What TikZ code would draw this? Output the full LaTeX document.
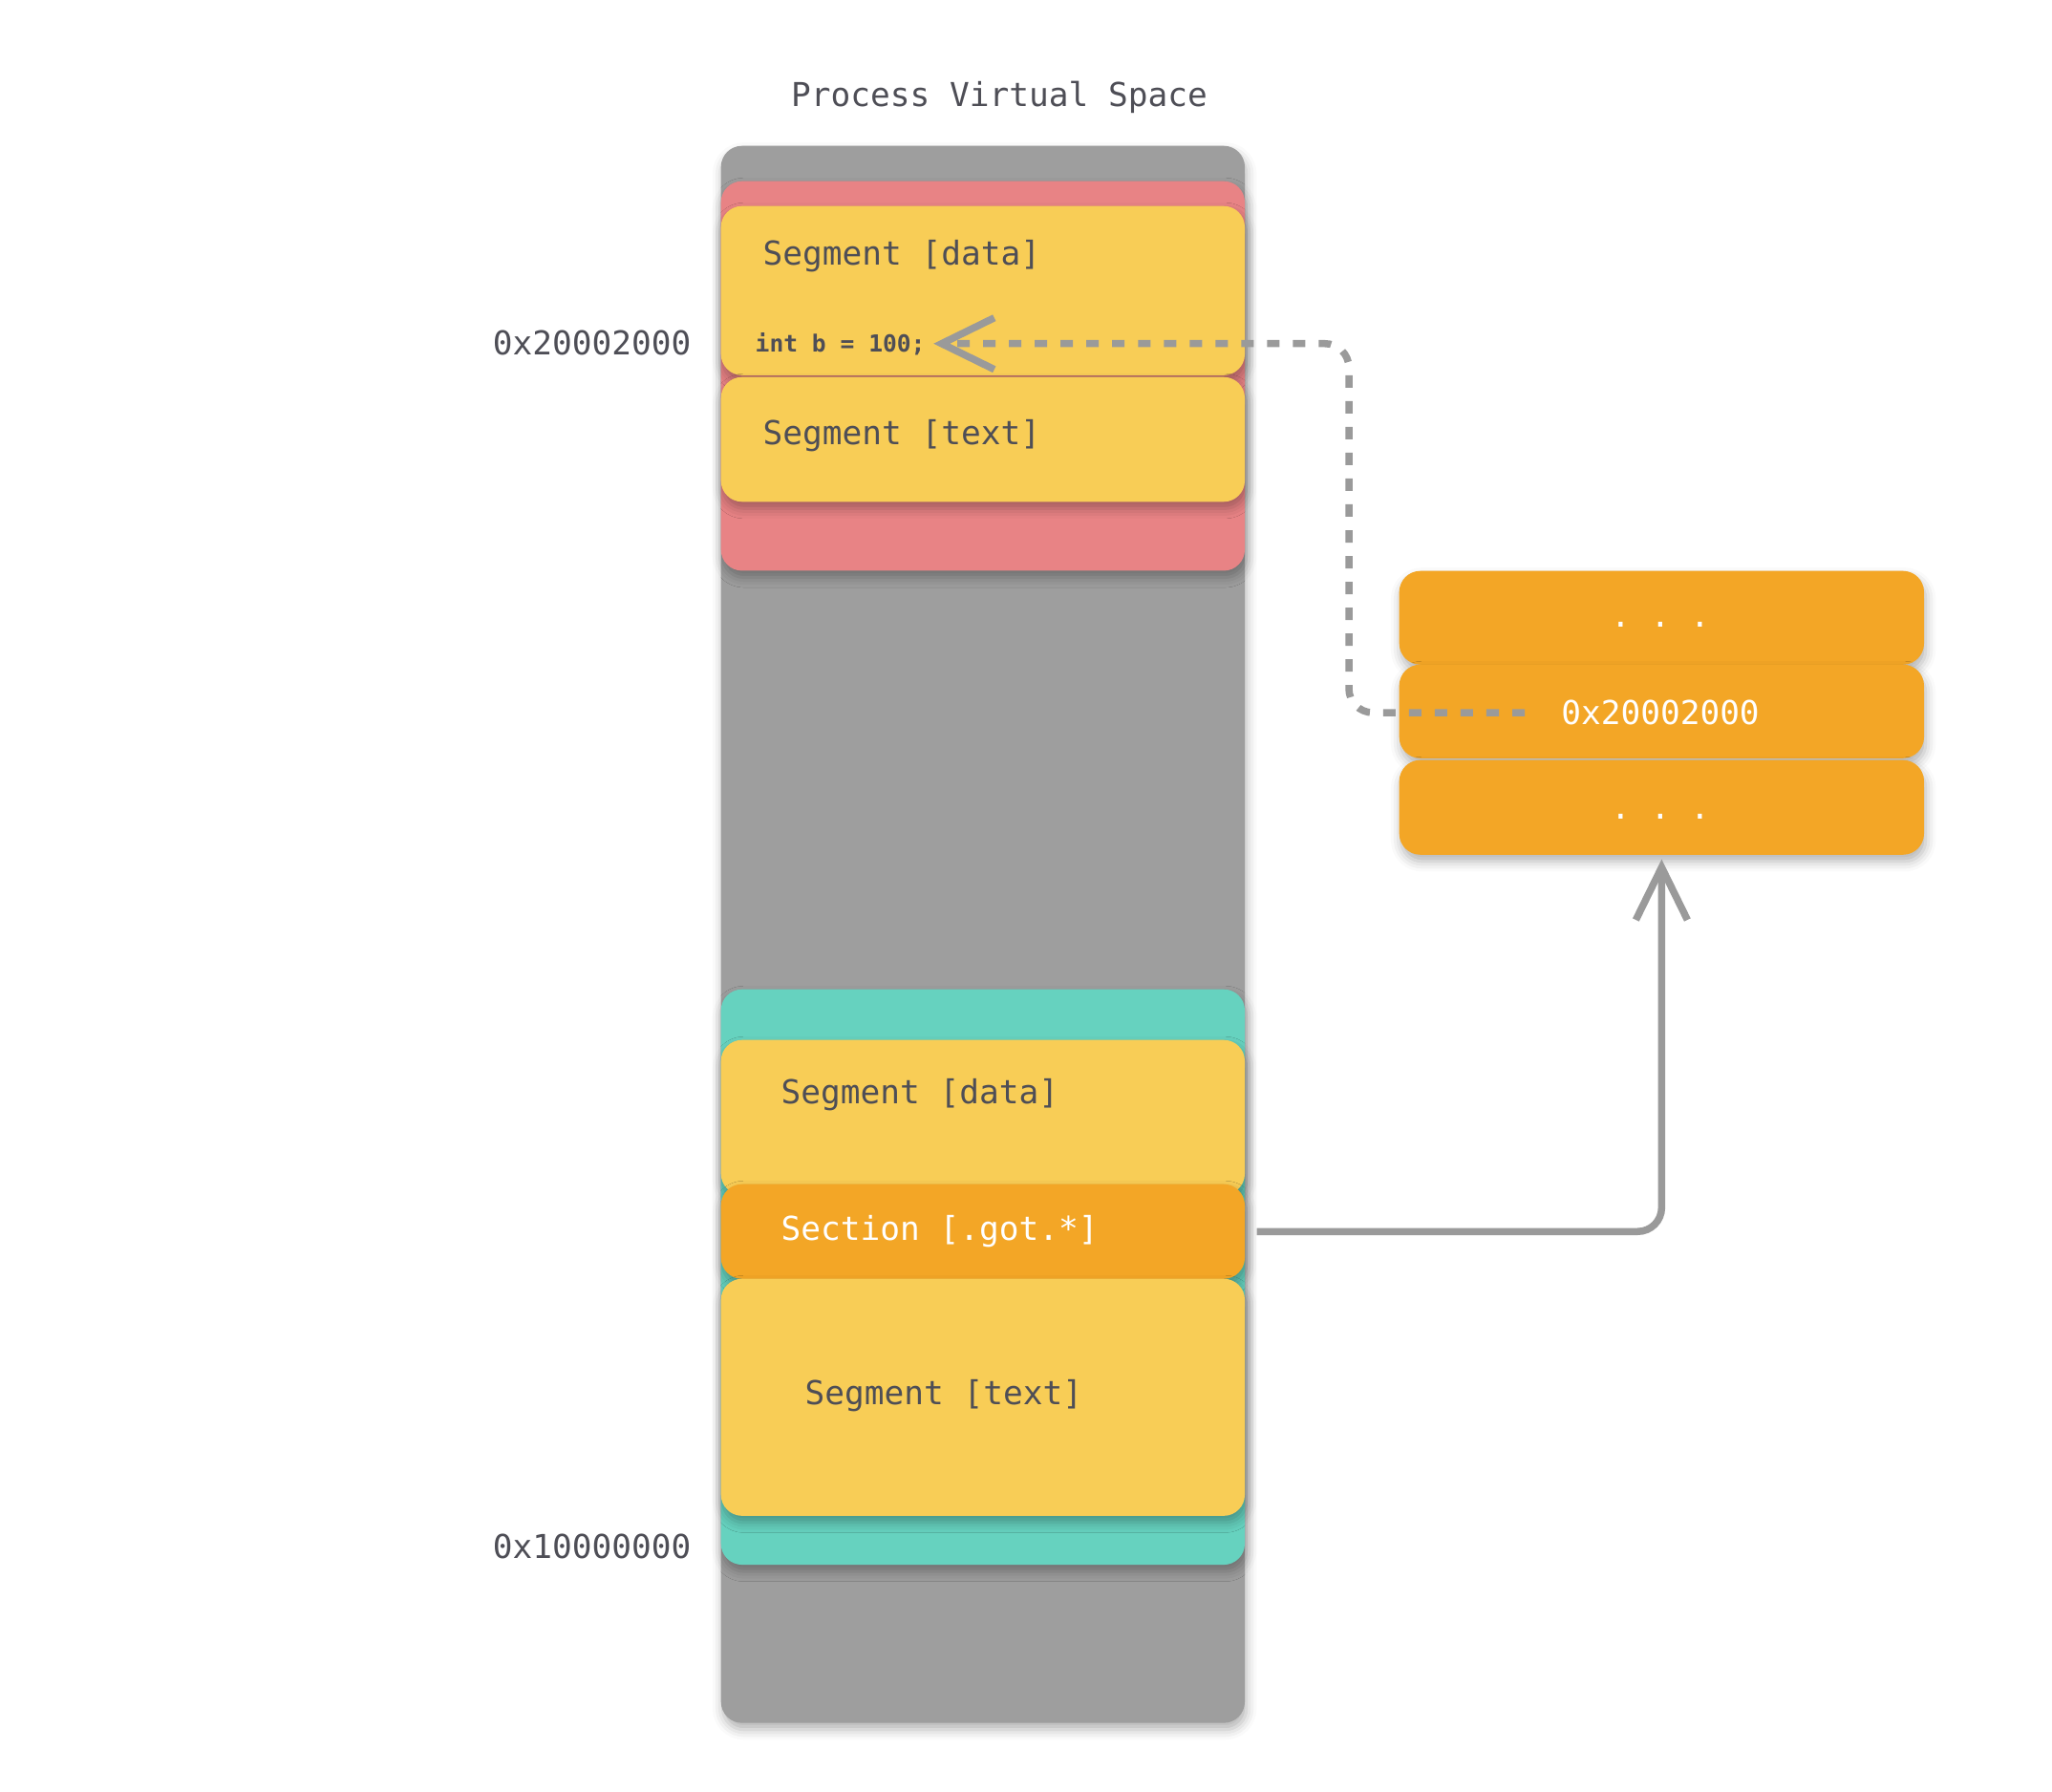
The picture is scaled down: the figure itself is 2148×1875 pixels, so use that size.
\documentclass[tikz,border=0pt]{standalone}
\usepackage{fontspec}
\setmonofont{DejaVu Sans Mono}
\usetikzlibrary{arrows.meta,shadows.blur}
\definecolor{colgray}{HTML}{9E9E9E}
\definecolor{heapred}{HTML}{E88385}
\definecolor{segyellow}{HTML}{F8CD56}
\definecolor{slotorange}{HTML}{F3A626}
\definecolor{libteal}{HTML}{66D2BF}
\definecolor{txtgray}{HTML}{4E4E56}
\definecolor{linkgray}{HTML}{9A9A9A}
\tikzset{
  seg/.style={rounded corners=0.22cm, inner sep=0pt, minimum width=5.48cm, anchor=north west,
    blur shadow={shadow xshift=0.5pt, shadow yshift=-2pt, shadow blur radius=3pt, shadow opacity=30}},
  lbl/.style={font=\ttfamily\fontsize{9.8}{12}\selectfont, text=txtgray, inner sep=0pt},
  link/.style={draw=linkgray, line width=0.075cm, rounded corners=0.25cm,
    -{Straight Barb[length=0.55cm, width=0.54cm, line width=0.075cm]}},
}
\begin{document}
\begin{tikzpicture}[x=0.01cm,y=-0.01cm]
\useasboundingbox (0,0) rectangle (2148,1875);
\node[lbl] (title) at (1046,102) {Process Virtual Space};
% the column
\node[seg, fill=colgray, minimum height=16.5cm] (vspace) at (754,152) {};
% upper part
\node[seg, fill=heapred, minimum height=4.075cm] (heapR) at (754,189) {};
\node[seg, fill=segyellow, minimum height=1.77cm] (dataA) at (754,215) {};
\node[seg, fill=segyellow, minimum height=1.305cm] (textA) at (754,394) {};
\node[lbl, anchor=west] at (798,268) {Segment [data]};
\node[lbl, anchor=base west, font=\ttfamily\bfseries\fontsize{7}{9}\selectfont, inner sep=0.04cm] (intb) at (786,368) {int b = 100;};
\node[lbl, anchor=west] at (798,456) {Segment [text]};
% lower part
\node[seg, fill=libteal, minimum height=6.02cm] (libT) at (754,1035) {};
\node[seg, fill=segyellow, minimum height=1.62cm] (dataB) at (754,1088) {};
\node[seg, fill=slotorange, minimum height=0.99cm] (gotB) at (754,1239) {};
\node[seg, fill=segyellow, minimum height=2.48cm] (textB) at (754,1338) {};
\node[lbl, anchor=west] at (817,1146) {Segment [data]};
\node[lbl, anchor=west, text=white] at (817,1289) {Section [.got.*]};
\node[lbl, anchor=west] at (842,1461) {Segment [text]};
% addresses
\node[lbl, anchor=east] (hiaddr) at (724,359) {0x20002000};
\node[lbl, anchor=east] (loaddr) at (724,1619) {0x10000000};
% got entries
\node[seg, fill=slotorange, minimum width=5.49cm, minimum height=0.98cm] (slot1) at (1464,597) {};
\node[seg, fill=slotorange, minimum width=5.49cm, minimum height=0.98cm] (slot2) at (1464,695) {};
\node[seg, fill=slotorange, minimum width=5.49cm, minimum height=0.99cm] (slot3) at (1464,795) {};
\node[lbl, anchor=base, text=white] at (1738,656) {. . .};
\node[lbl, text=white] (ptraddr) at (1738,746) {0x20002000};
\node[lbl, anchor=base, text=white] at (1738,857) {. . .};
% pointers
\coordinate (ptrstart) at (1596,746);
\coordinate (ptrbend) at (1412,746);
\draw[link, dash pattern=on 0.13cm off 0.14cm, shorten >=0.04cm] (ptrstart) -- (ptrbend) |- (intb.east);
\draw[link, shorten <=0.12cm, shorten >=0.04cm] (gotB.east) -| (slot3.south);
\end{tikzpicture}
\end{document}
